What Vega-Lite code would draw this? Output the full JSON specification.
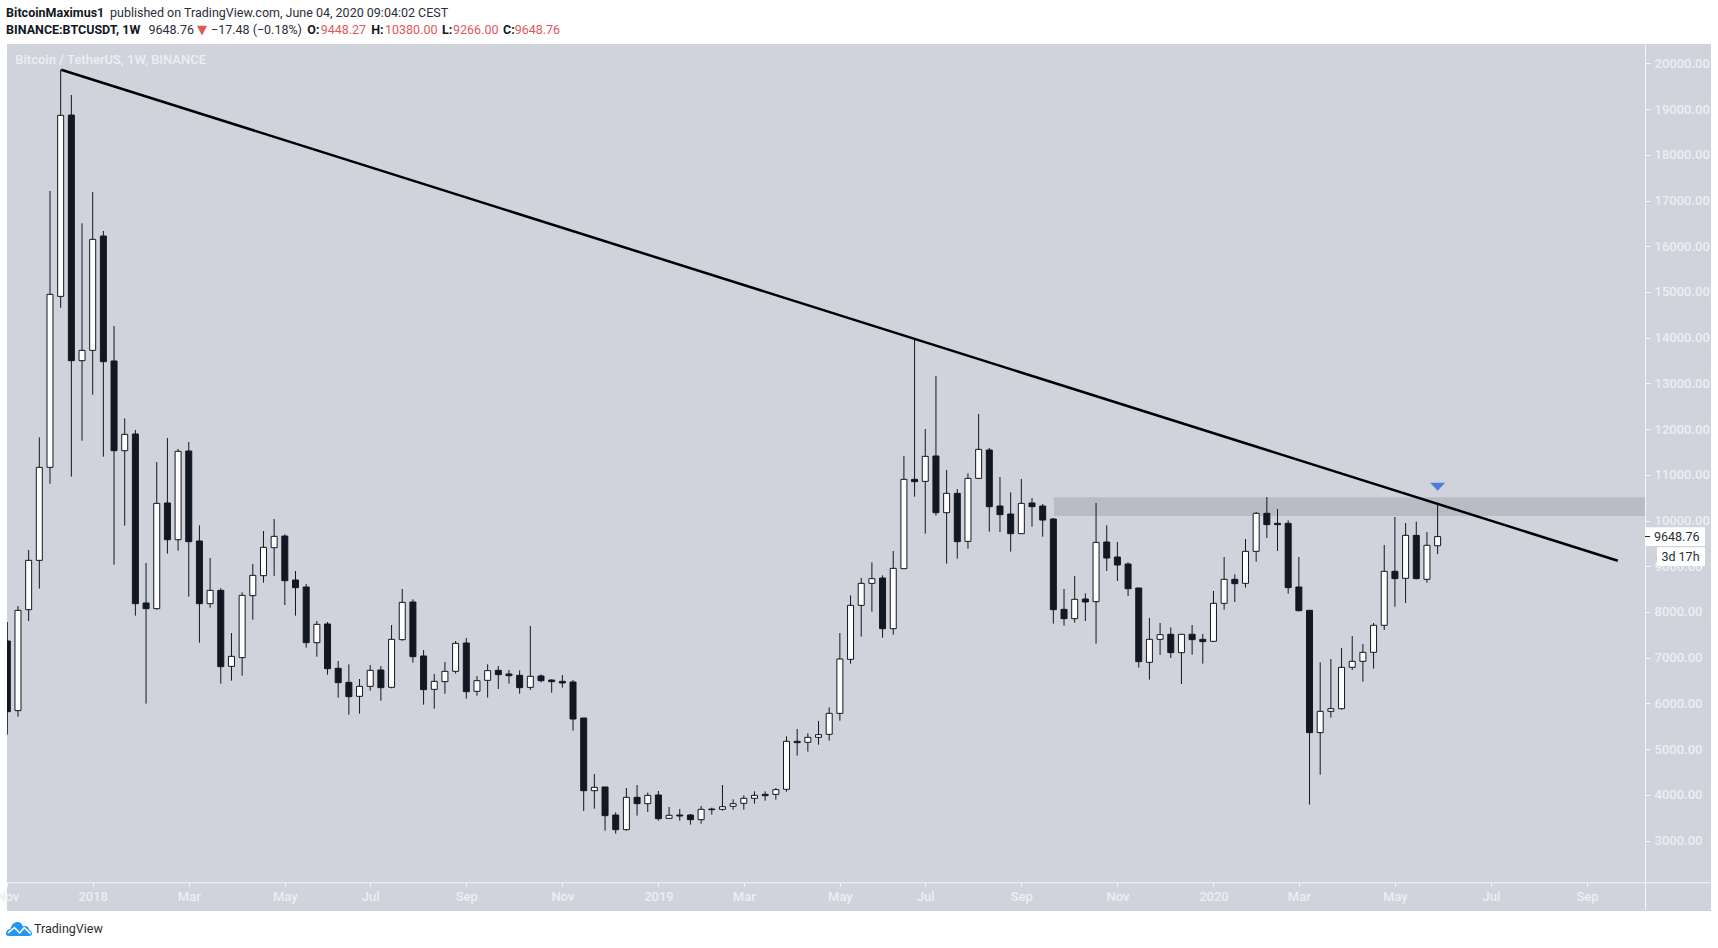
{
  "$schema": "https://vega.github.io/schema/vega-lite/v6.json",
  "width": 1704,
  "height": 867,
  "autosize": {"type": "none"},
  "padding": {"left": 7, "top": 44, "right": 7, "bottom": 37},
  "background": "#ffffff",
  "config": {"view": {"fill": "#d0d3dc", "stroke": null}},
  "datasets": {
    "candles": [
      {"t":"2017-11-06","o":7365,"h":7780,"l":5316,"c":5819},
      {"t":"2017-11-13","o":5841,"h":8130,"l":5709,"c":8035},
      {"t":"2017-11-20","o":8050,"h":9355,"l":7802,"c":9129},
      {"t":"2017-11-27","o":9129,"h":11820,"l":8510,"c":11164},
      {"t":"2017-12-04","o":11164,"h":17209,"l":10806,"c":14948},
      {"t":"2017-12-11","o":14904,"h":19863,"l":14656,"c":18864},
      {"t":"2017-12-18","o":18871,"h":19309,"l":10960,"c":13497},
      {"t":"2017-12-25","o":13497,"h":16501,"l":11747,"c":13723},
      {"t":"2018-01-01","o":13723,"h":17187,"l":12753,"c":16151},
      {"t":"2018-01-08","o":16224,"h":16334,"l":11397,"c":13475},
      {"t":"2018-01-15","o":13490,"h":14256,"l":9034,"c":11528},
      {"t":"2018-01-22","o":11528,"h":12236,"l":9888,"c":11886},
      {"t":"2018-01-29","o":11893,"h":11980,"l":7919,"c":8181},
      {"t":"2018-02-05","o":8196,"h":9071,"l":5994,"c":8072},
      {"t":"2018-02-12","o":8072,"h":11280,"l":8050,"c":10376},
      {"t":"2018-02-19","o":10384,"h":11805,"l":9275,"c":9581},
      {"t":"2018-02-26","o":9581,"h":11565,"l":9341,"c":11514},
      {"t":"2018-03-05","o":11521,"h":11718,"l":8334,"c":9538},
      {"t":"2018-03-12","o":9552,"h":9895,"l":7328,"c":8181},
      {"t":"2018-03-19","o":8181,"h":9180,"l":8094,"c":8473},
      {"t":"2018-03-26","o":8473,"h":8517,"l":6431,"c":6803},
      {"t":"2018-04-02","o":6810,"h":7539,"l":6497,"c":7029},
      {"t":"2018-04-09","o":7000,"h":8429,"l":6606,"c":8364},
      {"t":"2018-04-16","o":8356,"h":9049,"l":7831,"c":8801},
      {"t":"2018-04-23","o":8794,"h":9771,"l":8641,"c":9414},
      {"t":"2018-04-30","o":9406,"h":10033,"l":8787,"c":9654},
      {"t":"2018-05-07","o":9661,"h":9698,"l":8152,"c":8684},
      {"t":"2018-05-14","o":8699,"h":8896,"l":7919,"c":8531},
      {"t":"2018-05-21","o":8546,"h":8611,"l":7219,"c":7328},
      {"t":"2018-05-28","o":7328,"h":7802,"l":7022,"c":7729},
      {"t":"2018-06-04","o":7737,"h":7780,"l":6628,"c":6759},
      {"t":"2018-06-11","o":6767,"h":6927,"l":6125,"c":6453},
      {"t":"2018-06-18","o":6460,"h":6854,"l":5753,"c":6147},
      {"t":"2018-06-25","o":6154,"h":6533,"l":5775,"c":6373},
      {"t":"2018-07-02","o":6373,"h":6840,"l":6278,"c":6723},
      {"t":"2018-07-09","o":6730,"h":6818,"l":6059,"c":6344},
      {"t":"2018-07-16","o":6351,"h":7715,"l":6329,"c":7401},
      {"t":"2018-07-23","o":7394,"h":8502,"l":7372,"c":8210},
      {"t":"2018-07-30","o":8218,"h":8276,"l":6891,"c":7022},
      {"t":"2018-08-06","o":7037,"h":7168,"l":5972,"c":6300},
      {"t":"2018-08-13","o":6307,"h":6643,"l":5884,"c":6482},
      {"t":"2018-08-20","o":6475,"h":6905,"l":6212,"c":6701},
      {"t":"2018-08-27","o":6701,"h":7365,"l":6650,"c":7313},
      {"t":"2018-09-03","o":7321,"h":7430,"l":6103,"c":6256},
      {"t":"2018-09-10","o":6264,"h":6599,"l":6169,"c":6497},
      {"t":"2018-09-17","o":6504,"h":6854,"l":6125,"c":6716},
      {"t":"2018-09-24","o":6723,"h":6818,"l":6315,"c":6628},
      {"t":"2018-10-01","o":6643,"h":6730,"l":6431,"c":6606},
      {"t":"2018-10-08","o":6614,"h":6723,"l":6212,"c":6344},
      {"t":"2018-10-15","o":6351,"h":7693,"l":6293,"c":6592},
      {"t":"2018-10-22","o":6599,"h":6635,"l":6460,"c":6497},
      {"t":"2018-10-29","o":6511,"h":6526,"l":6234,"c":6475},
      {"t":"2018-11-05","o":6482,"h":6621,"l":6344,"c":6446},
      {"t":"2018-11-12","o":6468,"h":6511,"l":5403,"c":5658},
      {"t":"2018-11-19","o":5680,"h":5680,"l":3646,"c":4090},
      {"t":"2018-11-26","o":4090,"h":4455,"l":3697,"c":4164},
      {"t":"2018-12-03","o":4171,"h":4171,"l":3215,"c":3544},
      {"t":"2018-12-10","o":3558,"h":3617,"l":3150,"c":3237},
      {"t":"2018-12-17","o":3237,"h":4149,"l":3215,"c":3945},
      {"t":"2018-12-24","o":3945,"h":4214,"l":3544,"c":3806},
      {"t":"2018-12-31","o":3806,"h":4047,"l":3624,"c":3988},
      {"t":"2019-01-07","o":3996,"h":4083,"l":3434,"c":3478},
      {"t":"2019-01-14","o":3485,"h":3733,"l":3478,"c":3551},
      {"t":"2019-01-21","o":3558,"h":3689,"l":3434,"c":3536},
      {"t":"2019-01-28","o":3558,"h":3580,"l":3347,"c":3456},
      {"t":"2019-02-04","o":3456,"h":3755,"l":3369,"c":3682},
      {"t":"2019-02-11","o":3689,"h":3719,"l":3565,"c":3675},
      {"t":"2019-02-18","o":3682,"h":4214,"l":3653,"c":3740},
      {"t":"2019-02-25","o":3748,"h":3901,"l":3675,"c":3806},
      {"t":"2019-03-04","o":3813,"h":3988,"l":3675,"c":3923},
      {"t":"2019-03-11","o":3923,"h":4076,"l":3806,"c":3988},
      {"t":"2019-03-18","o":4010,"h":4076,"l":3872,"c":3981},
      {"t":"2019-03-25","o":4010,"h":4149,"l":3894,"c":4112},
      {"t":"2019-04-01","o":4120,"h":5279,"l":4069,"c":5170},
      {"t":"2019-04-08","o":5170,"h":5440,"l":4856,"c":5141},
      {"t":"2019-04-15","o":5148,"h":5345,"l":4944,"c":5257},
      {"t":"2019-04-22","o":5257,"h":5615,"l":5097,"c":5316},
      {"t":"2019-04-29","o":5323,"h":5914,"l":5184,"c":5782},
      {"t":"2019-05-06","o":5782,"h":7539,"l":5622,"c":6971},
      {"t":"2019-05-13","o":6964,"h":8364,"l":6869,"c":8145},
      {"t":"2019-05-20","o":8145,"h":8743,"l":7459,"c":8626},
      {"t":"2019-05-27","o":8626,"h":9085,"l":8006,"c":8728},
      {"t":"2019-06-03","o":8743,"h":8801,"l":7437,"c":7634},
      {"t":"2019-06-10","o":7634,"h":9333,"l":7503,"c":8954},
      {"t":"2019-06-17","o":8947,"h":11412,"l":8947,"c":10901},
      {"t":"2019-06-24","o":10901,"h":13964,"l":10522,"c":10850},
      {"t":"2019-07-01","o":10857,"h":12002,"l":9713,"c":11404},
      {"t":"2019-07-08","o":11412,"h":13162,"l":10106,"c":10172},
      {"t":"2019-07-15","o":10172,"h":11105,"l":9056,"c":10595},
      {"t":"2019-07-22","o":10595,"h":10690,"l":9166,"c":9538},
      {"t":"2019-07-29","o":9545,"h":11032,"l":9384,"c":10923},
      {"t":"2019-08-05","o":10923,"h":12330,"l":10916,"c":11557},
      {"t":"2019-08-12","o":11543,"h":11587,"l":9756,"c":10303},
      {"t":"2019-08-19","o":10318,"h":10952,"l":9749,"c":10128},
      {"t":"2019-08-26","o":10143,"h":10617,"l":9319,"c":9713},
      {"t":"2019-09-02","o":9713,"h":10908,"l":9713,"c":10376},
      {"t":"2019-09-09","o":10384,"h":10493,"l":9866,"c":10303},
      {"t":"2019-09-16","o":10318,"h":10361,"l":9647,"c":10011},
      {"t":"2019-09-23","o":10033,"h":10055,"l":7744,"c":8050},
      {"t":"2019-09-30","o":8057,"h":8502,"l":7700,"c":7853},
      {"t":"2019-10-07","o":7853,"h":8787,"l":7766,"c":8276},
      {"t":"2019-10-14","o":8283,"h":8407,"l":7802,"c":8218},
      {"t":"2019-10-21","o":8225,"h":10384,"l":7306,"c":9523},
      {"t":"2019-10-28","o":9530,"h":9895,"l":8896,"c":9180},
      {"t":"2019-11-04","o":9202,"h":9530,"l":8677,"c":9027},
      {"t":"2019-11-11","o":9049,"h":9085,"l":8349,"c":8509},
      {"t":"2019-11-18","o":8524,"h":8524,"l":6781,"c":6913},
      {"t":"2019-11-25","o":6898,"h":7868,"l":6519,"c":7401},
      {"t":"2019-12-02","o":7401,"h":7759,"l":7059,"c":7503},
      {"t":"2019-12-09","o":7511,"h":7664,"l":6993,"c":7110},
      {"t":"2019-12-16","o":7110,"h":7511,"l":6424,"c":7511},
      {"t":"2019-12-23","o":7511,"h":7715,"l":7066,"c":7394},
      {"t":"2019-12-30","o":7401,"h":7518,"l":6869,"c":7350},
      {"t":"2020-01-06","o":7358,"h":8459,"l":7350,"c":8189},
      {"t":"2020-01-13","o":8189,"h":9203,"l":8050,"c":8714},
      {"t":"2020-01-20","o":8714,"h":8823,"l":8218,"c":8619},
      {"t":"2020-01-27","o":8626,"h":9596,"l":8532,"c":9326},
      {"t":"2020-02-03","o":9326,"h":10187,"l":9100,"c":10158},
      {"t":"2020-02-10","o":10158,"h":10515,"l":9618,"c":9910},
      {"t":"2020-02-17","o":9939,"h":10253,"l":9334,"c":9910},
      {"t":"2020-02-24","o":9939,"h":10005,"l":8400,"c":8532},
      {"t":"2020-03-02","o":8546,"h":9203,"l":8014,"c":8028},
      {"t":"2020-03-09","o":8036,"h":8036,"l":3785,"c":5360},
      {"t":"2020-03-16","o":5360,"h":6898,"l":4441,"c":5826},
      {"t":"2020-03-23","o":5826,"h":6971,"l":5688,"c":5884},
      {"t":"2020-03-30","o":5884,"h":7212,"l":5863,"c":6789},
      {"t":"2020-04-06","o":6789,"h":7474,"l":6731,"c":6920},
      {"t":"2020-04-13","o":6920,"h":7299,"l":6475,"c":7117},
      {"t":"2020-04-20","o":7117,"h":7759,"l":6760,"c":7708},
      {"t":"2020-04-27","o":7708,"h":9465,"l":7606,"c":8889},
      {"t":"2020-05-04","o":8889,"h":10078,"l":8116,"c":8729},
      {"t":"2020-05-11","o":8736,"h":9946,"l":8196,"c":9676},
      {"t":"2020-05-18","o":9676,"h":9975,"l":8714,"c":8729},
      {"t":"2020-05-25","o":8714,"h":9749,"l":8641,"c":9458},
      {"t":"2020-06-01","o":9448.27,"h":10380,"l":9266,"c":9648.76}
    ],
    "notes": [
      {"kind":"bold","text":"BitcoinMaximus1","t":1509858406800,"p":21110},
      {"kind":"plain","text":"published on TradingView.com, June 04, 2020 09:04:02 CEST","t":1515745484700,"p":21110},
      {"kind":"bold","text":"BINANCE:BTCUSDT, 1W","t":1509858406800,"p":20742},
      {"kind":"plain","text":"9648.76","t":1517926933200,"p":20742},
      {"kind":"glyph","text":"▼","t":1520674991700,"p":20742},
      {"kind":"plain","text":"−17.48 (−0.18%)","t":1521468245700,"p":20742},
      {"kind":"bold","text":"O:","t":1526924700000,"p":20742},
      {"kind":"red","text":"9448.27","t":1527683957400,"p":20742},
      {"kind":"bold","text":"H:","t":1530545337900,"p":20742},
      {"kind":"red","text":"10380.00","t":1531327259700,"p":20742},
      {"kind":"bold","text":"L:","t":1534556936700,"p":20742},
      {"kind":"red","text":"9266.00","t":1535180207700,"p":20742},
      {"kind":"bold","text":"C:","t":1538013257700,"p":20742},
      {"kind":"red","text":"9648.76","t":1538676191400,"p":20742},
      {"kind":"light","text":"Bitcoin / TetherUS, 1W, BINANCE","t":1510379688000,"p":20068},
      {"kind":"plain","text":"TradingView","t":1511439248700,"p":1064},
      {"kind":"plain","text":"9648.76","t":1603230068700,"p":9646},
      {"kind":"plain","text":"3d 17h","t":1603649360100,"p":9209}
    ]
  },
  "encoding": {
    "x": {
      "field": "t",
      "type": "temporal",
      "title": null,
      "scale": {"type": "utc", "domain": [1509909401700, 1606459745700], "padding": 0},
      "axis": {
        "orient": "bottom",
        "offset": -28.7,
        "grid": false,
        "domainColor": "#f4f5f8",
        "tickColor": "#f4f5f8",
        "tickSize": 4,
        "labelColor": "#eceef2",
        "labelFont": "Roboto",
        "labelFontSize": 13,
        "labelFontWeight": 500,
        "labelPadding": 4,
        "labelOverlap": false,
        "labelFlush": false,
        "values": ["2017-11-06","2018-01-01","2018-03-05","2018-05-07","2018-07-02","2018-09-03","2018-11-05","2019-01-07","2019-03-04","2019-05-06","2019-07-01","2019-09-02","2019-11-04","2020-01-06","2020-03-02","2020-05-04","2020-07-06","2020-09-07"],
        "labelExpr": "utcFormat(datum.value,'%b')=='Jan' ? utcFormat(datum.value,'%Y') : utcFormat(datum.value,'%b')"
      }
    },
    "y": {
      "field": "p",
      "type": "quantitative",
      "title": null,
      "scale": {"domain": [1458, 20425], "nice": false, "zero": false},
      "axis": {
        "orient": "right",
        "offset": -66,
        "grid": false,
        "domainColor": "#f4f5f8",
        "tickColor": "#f4f5f8",
        "tickSize": 5,
        "labelColor": "#eceef2",
        "labelFont": "Roboto",
        "labelFontSize": 13,
        "labelFontWeight": 500,
        "labelPadding": 4,
        "labelOverlap": false,
        "labelFlush": false,
        "format": ".2f",
        "values": [3000,4000,5000,6000,7000,8000,9000,10000,11000,12000,13000,14000,15000,16000,17000,18000,19000,20000]
      }
    }
  },
  "layer": [
    {
      "data": {"values": [{"t": 1569233468700, "t2": 1602720119700, "p": 10508, "p2": 10099}]},
      "mark": {"type": "rect", "color": "#b9bcc5"},
      "encoding": {"x2": {"field": "t2"}, "y2": {"field": "p2"}}
    },
    {
      "data": {"name": "candles"},
      "mark": {"type": "rule", "color": "#131722", "strokeWidth": 1, "clip": true},
      "encoding": {
        "y": {"field": "l", "type": "quantitative", "title": null, "scale": {"domain": [1458, 20425], "nice": false, "zero": false}},
        "y2": {"field": "h"}
      }
    },
    {
      "data": {"name": "candles"},
      "mark": {"type": "bar", "size": 6, "stroke": "#131722", "strokeWidth": 1, "clip": true},
      "encoding": {
        "y": {"field": "o", "type": "quantitative", "title": null, "scale": {"domain": [1458, 20425], "nice": false, "zero": false}},
        "y2": {"field": "c"},
        "fill": {"condition": {"test": "datum.c >= datum.o", "value": "#ffffff"}, "value": "#131722"}
      }
    },
    {
      "data": {"values": [{"t": 1512980427900, "p": 19863}, {"t": 1601178940500, "p": 9121}]},
      "mark": {"type": "line", "color": "#000000", "strokeWidth": 2.5}
    },
    {
      "data": {"values": [{"t": "2020-06-01", "p": 10740}]},
      "mark": {"type": "point", "shape": "M-1,-0.53L1,-0.53L0,0.53Z", "size": 225, "filled": true, "color": "#4a80dc", "opacity": 1}
    },
    {
      "data": {"values": [
        {"t": 1602720119700, "t2": 1606119779700, "p": 9852, "p2": 9443},
        {"t": 1603400051700, "t2": 1606119779700, "p": 9414, "p2": 9005}
      ]},
      "mark": {"type": "rect", "color": "#ffffff"},
      "encoding": {"x2": {"field": "t2"}, "y2": {"field": "p2"}}
    },
    {
      "data": {"values": [{"t": 1602720119700, "t2": 1603003424700, "p": 9648.76}]},
      "mark": {"type": "rule", "color": "#131722"},
      "encoding": {"x2": {"field": "t2"}}
    },
    {
      "data": {"values": [{"t": 1510589333700, "p": 1064}]},
      "mark": {
        "type": "point",
        "shape": "M-1,0.35C-1,0.1-0.8,0-0.65,0C-0.6,-0.35-0.35,-0.54-0.1,-0.54C0.1,-0.54 0.25,-0.4 0.3,-0.2C0.6,-0.3 0.8,-0.1 0.75,0.05C0.95,0.1 1,0.25 1,0.35C1,0.5 0.9,0.54 0.75,0.54L-0.75,0.54C-0.9,0.54-1,0.5-1,0.35Z",
        "size": 676,
        "filled": true,
        "color": "#2196f3",
        "opacity": 1
      }
    },
    {
      "data": {"values": [{"t": 1510589333700, "p": 1064}]},
      "mark": {
        "type": "point",
        "shape": "M-0.85,0.3L-0.35,-0.1L0.05,0.3L0.4,-0.1L0.9,0.35",
        "size": 676,
        "filled": false,
        "stroke": "#ffffff",
        "strokeWidth": 1.6,
        "opacity": 1
      }
    },
    {
      "data": {"name": "notes"},
      "transform": [{"filter": "datum.kind == 'plain'"}],
      "mark": {"type": "text", "align": "left", "baseline": "middle", "font": "Roboto", "fontSize": 12.5, "color": "#2a2e39"},
      "encoding": {"text": {"field": "text"}}
    },
    {
      "data": {"name": "notes"},
      "transform": [{"filter": "datum.kind == 'bold'"}],
      "mark": {"type": "text", "align": "left", "baseline": "middle", "font": "Roboto", "fontSize": 12.5, "fontWeight": "bold", "color": "#131722"},
      "encoding": {"text": {"field": "text"}}
    },
    {
      "data": {"name": "notes"},
      "transform": [{"filter": "datum.kind == 'red'"}],
      "mark": {"type": "text", "align": "left", "baseline": "middle", "font": "Roboto", "fontSize": 12.5, "color": "#e2575a"},
      "encoding": {"text": {"field": "text"}}
    },
    {
      "data": {"name": "notes"},
      "transform": [{"filter": "datum.kind == 'glyph'"}],
      "mark": {"type": "text", "align": "left", "baseline": "middle", "font": "DejaVu Sans", "fontSize": 13, "color": "#e2575a"},
      "encoding": {"text": {"field": "text"}}
    },
    {
      "data": {"name": "notes"},
      "transform": [{"filter": "datum.kind == 'light'"}],
      "mark": {"type": "text", "align": "left", "baseline": "middle", "font": "Roboto", "fontSize": 13, "fontWeight": 500, "color": "#eceef2"},
      "encoding": {"text": {"field": "text"}}
    }
  ]
}
